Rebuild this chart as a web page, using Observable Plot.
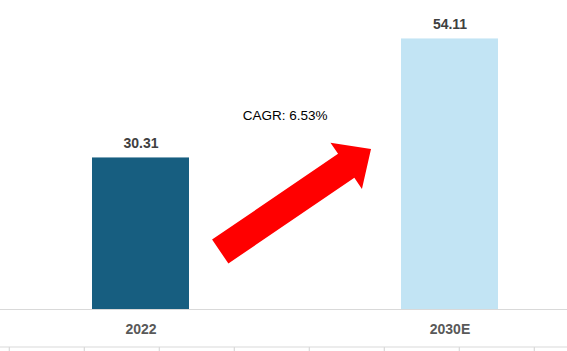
<!DOCTYPE html>
<html>
<head>
<meta charset="utf-8">
<script src="https://cdn.jsdelivr.net/npm/d3@7"></script>
<script src="https://cdn.jsdelivr.net/npm/@observablehq/plot@0.6"></script>
<style>
  html, body { margin: 0; padding: 0; background: #fff; }
  #chart svg { display: block; font-family: "Liberation Sans", Arial, sans-serif; }
</style>
</head>
<body>
<div id="chart"></div>
<script>
// ---- data ----
const years = ["2022", "2030E"];
const values = [30.31, 54.11];
const valueLabels = ["30.31", "54.11"];
const barColors = ["#175e80", "#c2e4f4"];
const cagrLabel = "CAGR: 6.53%";
// arrow: [fraction between the two bar centres, value on y scale]
const arrowFrom = [0.258, 11.5];
const arrowTo = [0.746, 32];
const cagrAt = [0.468, 38.7];

const data = years.map((y, i) => ({year: y, value: values[i], label: valueLabels[i], color: barColors[i]}));

// annotation mark: arrow, CAGR text, bottom table grid
function annotations(index, scales, values_, dims) {
  const sx = scales.x, sy = scales.y;
  const bw = typeof sx.bandwidth === "function" ? sx.bandwidth() : 0;
  const c0 = sx(years[0]) + bw / 2, c1 = sx(years[1]) + bw / 2;
  const px = t => c0 + t * (c1 - c0);
  const g = d3.create("svg:g");

  // bottom table grid
  const gy = dims.height - 4;
  g.append("line").attr("x1", 0).attr("x2", dims.width).attr("y1", gy).attr("y2", gy)
    .attr("stroke", "#d9d9d9").attr("stroke-width", 1.2);
  for (let k = 0; k < 8; k++) {
    const x = 9.3 + 75 * k;
    g.append("line").attr("x1", x).attr("x2", x).attr("y1", gy).attr("y2", dims.height)
      .attr("stroke", "#d9d9d9").attr("stroke-width", 1.2);
  }

  // arrow
  const T = [px(arrowFrom[0]), sy(arrowFrom[1])];
  const P = [px(arrowTo[0]), sy(arrowTo[1])];
  const L = Math.hypot(P[0] - T[0], P[1] - T[1]);
  const u = [(P[0] - T[0]) / L, (P[1] - T[1]) / L];
  const n = [-u[1], u[0]];
  const hw = 14.5, HW = 28, hl = 30;
  const N = [P[0] - u[0] * hl, P[1] - u[1] * hl];
  const pt = (b, s) => [b[0] + n[0] * s, b[1] + n[1] * s];
  const poly = [pt(T, hw), pt(N, hw), pt(N, HW), P, pt(N, -HW), pt(N, -hw), pt(T, -hw)];
  g.append("path").attr("d", "M" + poly.map(p => p.join(",")).join("L") + "Z").attr("fill", "#ff0000");

  // CAGR text
  g.append("text").attr("x", px(cagrAt[0])).attr("y", sy(cagrAt[1])).attr("dy", "0.32em")
    .attr("text-anchor", "middle").attr("font-size", "13.5px").attr("fill", "#000")
    .text(cagrLabel);
  return g.node();
}

const chart = Plot.plot({
  width: 567,
  height: 351,
  marginTop: 0,
  marginBottom: 42,
  marginLeft: 0,
  marginRight: 0,
  style: {fontFamily: "'Liberation Sans', Arial, sans-serif", background: "#fff"},
  x: {domain: years, range: [0, 567], paddingInner: 0.686, paddingOuter: 0.26, align: 0.571, axis: null},
  y: {domain: [0, 61.8], axis: null},
  marks: [
    Plot.ruleY([0], {stroke: "#d9d9d9", strokeWidth: 1.2}),
    Plot.barY(data, {x: "year", y: "value", fill: "color"}),
    Plot.text(data, {x: "year", y: "value", text: "label", dy: -14.5, fontSize: 14, fontWeight: "bold", fill: "#404040"}),
    Plot.axisX({tickSize: 0, tickPadding: 15, fontSize: 14, fontWeight: "bold", fill: "#595959", label: null}),
    annotations
  ]
});
document.getElementById("chart").appendChild(chart);
</script>
</body>
</html>
